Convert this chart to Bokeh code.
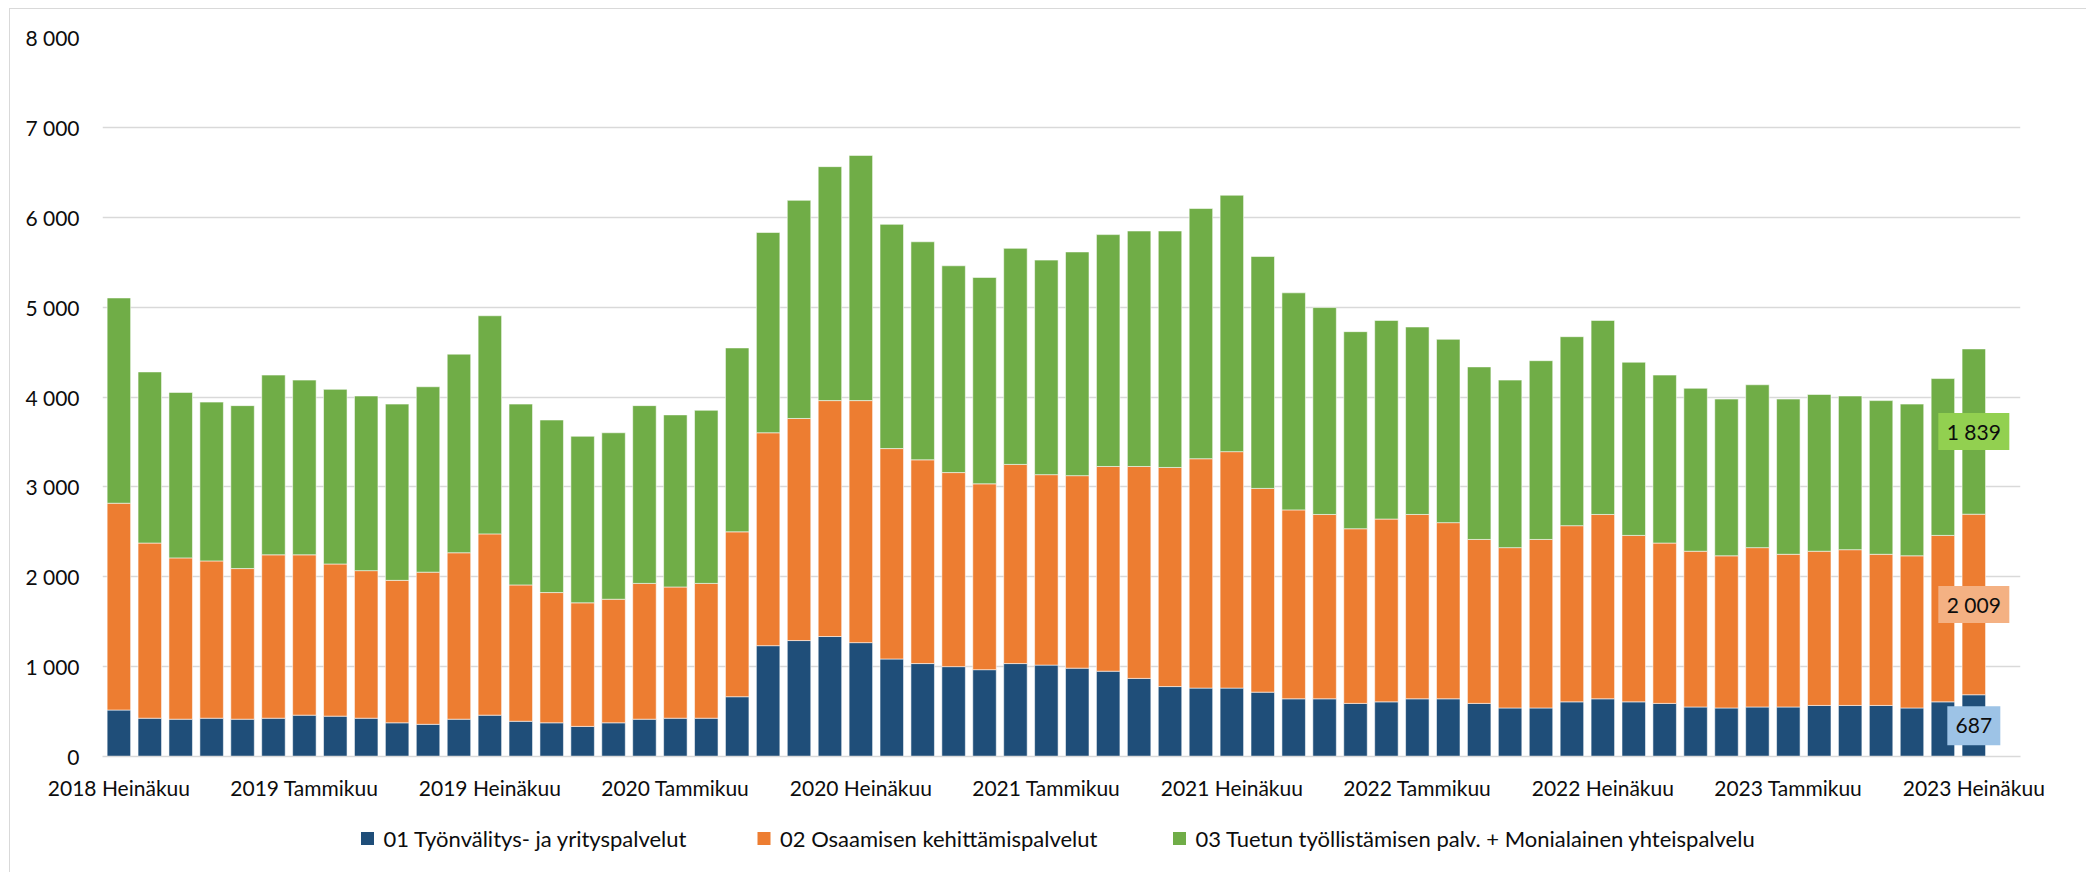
from bokeh.plotting import figure
from bokeh.models import ColumnDataSource, FixedTicker, Range1d
from bokeh.layouts import column
from bokeh.embed import file_html
from bokeh.resources import INLINE
from bokeh.core.properties import value

# ---------------- data ----------------
years = [2018, 2019, 2020, 2021, 2022, 2023]
month_names = ["Tammikuu", "Helmikuu", "Maaliskuu", "Huhtikuu", "Toukokuu", "Kesäkuu",
               "Heinäkuu", "Elokuu", "Syyskuu", "Lokakuu", "Marraskuu", "Joulukuu"]
periods = [f"{y} {m}" for y in years for m in month_names]
periods = periods[periods.index("2018 Heinäkuu"):periods.index("2023 Heinäkuu") + 1]

series_names = ["01 Työnvälitys- ja yrityspalvelut",
                "02 Osaamisen kehittämispalvelut",
                "03 Tuetun työllistämisen palv. + Monialainen yhteispalvelu"]

tyonvalitys = [517, 426, 415, 426, 415, 426, 460, 449, 426, 375,
               358, 415, 460, 392, 375, 335, 375, 415, 426, 426,
               665, 1233, 1290, 1335, 1267, 1085, 1034, 1000, 966, 1034,
               1017, 983, 949, 869, 778, 761, 761, 716, 642, 642,
               591, 608, 642, 642, 591, 540, 540, 608, 642, 608,
               591, 551, 540, 551, 551, 568, 568, 568, 540, 608, 687]
osaaminen = [2301, 1949, 1795, 1750, 1676, 1818, 1784, 1693, 1642, 1585,
             1693, 1852, 2017, 1517, 1449, 1375, 1375, 1511, 1460, 1500,
             1835, 2369, 2471, 2625, 2693, 2341, 2267, 2159, 2068, 2216,
             2119, 2142, 2278, 2358, 2438, 2552, 2631, 2267, 2102, 2051,
             1943, 2034, 2051, 1960, 1824, 1784, 1875, 1960, 2051, 1852,
             1784, 1733, 1693, 1773, 1699, 1716, 1733, 1682, 1693, 1852, 2009]
tuettu = [2284, 1904, 1841, 1767, 1813, 2000, 1944, 1943, 1943, 1961,
          2063, 2210, 2427, 2012, 1920, 1853, 1852, 1978, 1915, 1926,
          2046, 2228, 2427, 2603, 2728, 2495, 2426, 2301, 2296, 2404,
          2387, 2489, 2580, 2620, 2631, 2784, 2853, 2580, 2415, 2302,
          2193, 2210, 2086, 2040, 1920, 1864, 1989, 2103, 2159, 1927,
          1869, 1813, 1744, 1812, 1727, 1744, 1710, 1710, 1688, 1745, 1839]

y_ticks = [0, 1000, 2000, 3000, 4000, 5000, 6000, 7000, 8000]
x_tick_every = 6

# ---------------- styling ----------------
colors = ["#1F4E79", "#ED7D31", "#70AD47"]
label_fills = ["#9DC3E6", "#F4B183", "#92D050"]
FONT = "Lato"
FS = "21px"
TXT = "#0d0d0d"
GRID = "#d9d9d9"
W = 2077
H_MAIN = 797
H_LEG = 67
BL, BR = 92, 67   # frame borders (left/right) shared by both strips

x = list(range(len(periods)))
src = ColumnDataSource(dict(x=x, a=tyonvalitys, b=osaaminen, c=tuettu))

p = figure(width=W, height=H_MAIN, output_backend="svg", toolbar_location=None,
           x_range=Range1d(-0.53, 61.51), y_range=Range1d(0, 8000),
           min_border_left=BL, min_border_right=BR, min_border_top=28, min_border_bottom=50)
p.margin = (8, 0, 0, 9)
p.styles = {"border-left": "1px solid #d9d9d9", "border-top": "1px solid #d9d9d9"}
p.outline_line_color = None
p.border_fill_color = "white"

rs = p.vbar_stack(["a", "b", "c"], x="x", width=0.76, color=colors, source=src,
                  line_color="white", line_alpha=0.55, line_width=1)

# axes
p.xgrid.grid_line_color = None
p.ygrid.grid_line_color = GRID
p.ygrid.grid_line_width = 1.5
p.yaxis.ticker = FixedTicker(ticks=y_ticks)
p.yaxis.major_label_overrides = {t: f"{t:,}".replace(",", " ") for t in y_ticks}
p.yaxis.axis_line_color = None
p.yaxis.major_label_standoff = 23

xt = list(range(0, len(periods), x_tick_every))
p.xaxis.ticker = FixedTicker(ticks=xt)
p.xaxis.major_label_overrides = {i: periods[i] for i in xt}
p.xaxis.axis_line_color = GRID
p.xaxis.axis_line_width = 1.5
p.xaxis.major_label_standoff = 18

for ax in (p.xaxis[0], p.yaxis[0]):
    ax.major_tick_line_color = None
    ax.minor_tick_line_color = None
    ax.major_tick_out = 0
    ax.major_tick_in = 0
    ax.minor_tick_out = 0
    ax.minor_tick_in = 0
    ax.major_label_text_font = FONT
    ax.major_label_text_font_size = FS
    ax.major_label_text_color = TXT

# data labels for the last month
last = len(periods) - 1
vals = [tyonvalitys[last], osaaminen[last], tuettu[last]]
bottoms = [0, vals[0], vals[0] + vals[1]]
centers = [b + v / 2 for b, v in zip(bottoms, vals)]
texts = [f"{v:,}".replace(",", " ") for v in vals]
lab = ColumnDataSource(dict(x=[last] * 3, y=centers, t=texts, f=label_fills,
                            w=[53, 71, 71], h=[39, 37, 37]))
p.rect(x="x", y="y", width="w", height="h", width_units="screen", height_units="screen",
       fill_color="f", line_color=None, source=lab)
p.text(x="x", y="y", text="t", source=lab, text_align="center", text_baseline="middle",
       text_font=value(FONT), text_font_size=value(FS), text_color=TXT)

# ---------------- legend strip (x in canvas pixels) ----------------
q = figure(width=W, height=H_LEG, output_backend="svg", toolbar_location=None,
           x_range=Range1d(BL, W - BR), y_range=Range1d(0, H_LEG),
           min_border_left=BL, min_border_right=BR, min_border_top=0, min_border_bottom=0,
           outline_line_color=None)
q.margin = (0, 0, 0, 9)
q.styles = {"border-left": "1px solid #d9d9d9"}
q.axis.visible = False
q.grid.visible = False
sw_x = [357, 753.5, 1169]
leg_y = 34
q.rect(x=sw_x, y=[leg_y] * 3, width=13, height=13, fill_color=colors, line_color=None)
q.text(x=[v + 16 for v in sw_x], y=[leg_y] * 3, text=series_names,
       text_align="left", text_baseline="middle",
       text_font=value(FONT), text_font_size=value("22px"), text_color=TXT)

layout = column(p, q, spacing=0)
open("out.html", "w").write(file_html(layout, INLINE))
